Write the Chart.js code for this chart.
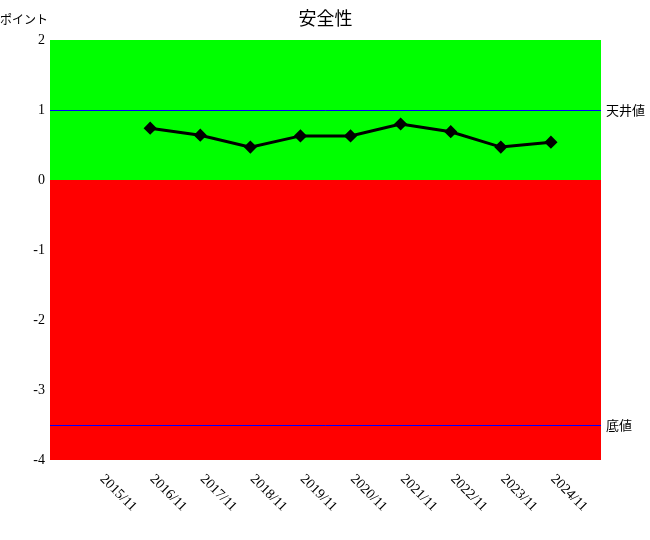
<!DOCTYPE html>
<html>
<head>
<meta charset="utf-8">
<script src="https://cdn.jsdelivr.net/npm/chart.js@4"></script>
<style>
  body { margin: 0; background: #fff; }
  #wrap { width: 650px; height: 540px; position: relative; }
</style>
</head>
<body>
<div id="wrap"><canvas id="chart"></canvas></div>
<script>
// Chart values
const years = ['2015/11', '2016/11', '2017/11', '2018/11', '2019/11', '2020/11', '2021/11', '2022/11', '2023/11', '2024/11'];
const scores = [null, 0.74, 0.64, 0.47, 0.63, 0.63, 0.80, 0.69, 0.47, 0.54];
const ceilingValue = 1;
const floorValue = -3.5;
const yTicks = [2, 1, 0, -1, -2, -3, -4];

// one empty slot on each side of the years
const labels = [''].concat(years, ['']);
const data = [null].concat(scores, [null]);

const serif = '"Liberation Serif", "DejaVu Serif", serif';
const jp = '"Noto Sans CJK JP", sans-serif';

const zonesPlugin = {
    id: 'zones',
    beforeDatasetsDraw(chart) {
        const { ctx, chartArea: a, scales } = chart;
        const y = scales.y;
        const zero = y.getPixelForValue(0);
        ctx.save();
        ctx.fillStyle = '#00ff00';
        ctx.fillRect(a.left, a.top, a.right - a.left, zero - a.top);
        ctx.fillStyle = '#ff0000';
        ctx.fillRect(a.left, zero, a.right - a.left, a.bottom - zero);

        // ceiling / floor lines
        ctx.strokeStyle = '#0000ff';
        ctx.lineWidth = 1;
        [ceilingValue, floorValue].forEach(function(v) {
            const py = Math.round(y.getPixelForValue(v)) + 0.5;
            ctx.beginPath();
            ctx.moveTo(a.left, py);
            ctx.lineTo(a.right, py);
            ctx.stroke();
        });
        ctx.restore();
    },
    afterDraw(chart) {
        const { ctx, chartArea: a, scales } = chart;
        ctx.save();
        ctx.fillStyle = '#000';

        // title and unit
        ctx.font = '18px ' + jp;
        ctx.textAlign = 'center';
        ctx.textBaseline = 'middle';
        ctx.fillText('安全性', (a.left + a.right) / 2, 18);
        ctx.font = '12px ' + jp;
        ctx.textAlign = 'left';
        ctx.fillText('ポイント', 0, 19);

        // line labels at the right
        ctx.font = '13px ' + jp;
        ctx.fillText('天井値', a.right + 5, scales.y.getPixelForValue(ceilingValue));
        ctx.fillText('底値', a.right + 5, scales.y.getPixelForValue(floorValue));

        // rotated year labels
        ctx.font = '14px ' + serif;
        ctx.textBaseline = 'middle';
        years.forEach(function(lbl, i) {
            const px = scales.x.getPixelForValue(i + 1);
            ctx.save();
            ctx.translate(px + 2, a.bottom + 17);
            ctx.rotate(Math.PI / 4);
            ctx.fillText(lbl, 0, 0);
            ctx.restore();
        });
        ctx.restore();
    }
};

new Chart(document.getElementById('chart'), {
    type: 'line',
    data: {
        labels: labels,
        datasets: [{
            label: '安全性',
            data: data,
            borderColor: '#000',
            backgroundColor: '#000',
            borderWidth: 3,
            pointStyle: 'rectRot',
            pointRadius: 4.5,
            pointHoverRadius: 4.5,
            tension: 0,
            spanGaps: false
        }]
    },
    options: {
        responsive: true,
        maintainAspectRatio: false,
        animation: false,
        layout: {
            padding: { top: 40, right: 49, bottom: 80, left: 0 }
        },
        plugins: {
            legend: { display: false },
            tooltip: { enabled: false }
        },
        scales: {
            x: {
                offset: false,
                grid: { display: false },
                border: { display: false },
                ticks: { display: false },
                afterFit(scale) { scale.height = 0; }
            },
            y: {
                min: -4,
                max: 2,
                grid: { display: false, drawTicks: false },
                border: { display: false },
                afterBuildTicks(scale) {
                    scale.ticks = yTicks.map(function(v) { return { value: v }; });
                },
                ticks: {
                    padding: 5,
                    color: '#000',
                    font: { family: serif, size: 14 }
                },
                afterFit(scale) { scale.width = 50; }
            }
        }
    },
    plugins: [zonesPlugin]
});
</script>
</body>
</html>
